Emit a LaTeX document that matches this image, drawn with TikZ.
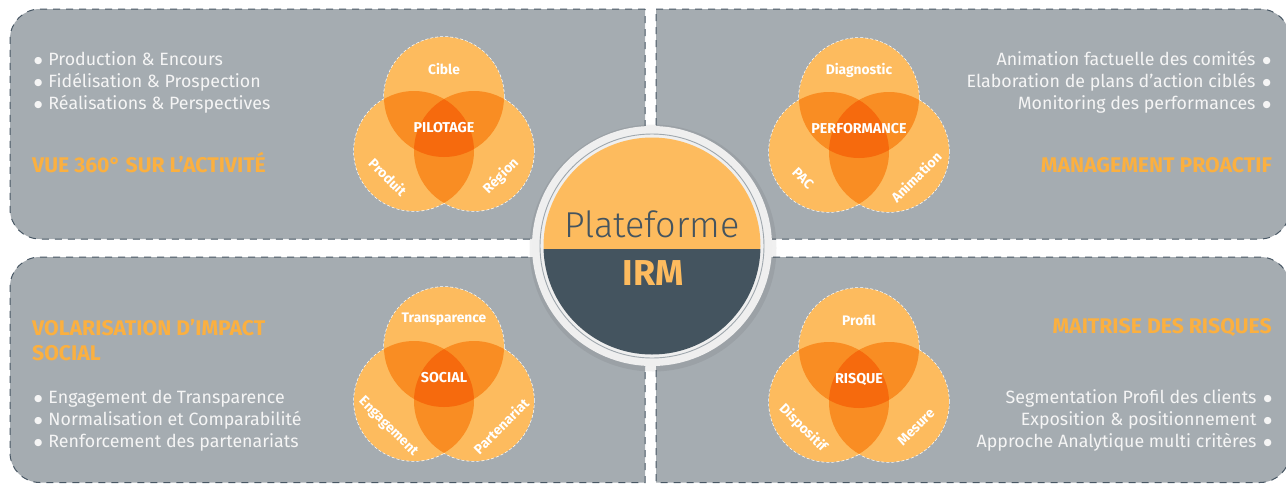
\documentclass[tikz,border=0pt]{standalone}
\usepackage{fontspec}
\setmainfont{Fira Sans}
\newfontfamily\lightfont{Fira Sans Light}
\newfontfamily\symfont{DejaVu Sans}
\definecolor{panelgray}{HTML}{A5ACB1}
\definecolor{dashcol}{HTML}{485764}
\definecolor{olight}{HTML}{FDBB5E}
\definecolor{omid}{HTML}{F98D23}
\definecolor{odark}{HTML}{F66A0D}
\definecolor{otitle}{HTML}{FBB040}
\definecolor{slate}{HTML}{44545F}
\definecolor{ringgray}{HTML}{EFEFEF}
\definecolor{ringline}{HTML}{9FA7AD}
\definecolor{btext}{HTML}{F5F5F5}
\newcommand\bul{{\symfont\fontsize{9.5}{10}\selectfont\raisebox{1.2pt}{●}}}
\newcommand\venn[7]{%
\begin{scope}[shift={(#2,#3)}]
 \coordinate (#1t) at (0,0);
 \coordinate (#1l) at (-30,54);
 \coordinate (#1r) at (30,54);
 \draw[vline] (#1t) circle[radius=60pt] (#1l) circle[radius=60pt] (#1r) circle[radius=60pt];
 \fill[olight] (#1t) circle[radius=60pt] (#1l) circle[radius=60pt] (#1r) circle[radius=60pt];
 \begin{scope}\clip (#1t) circle[radius=60pt];
  \fill[omid] (#1l) circle[radius=60pt] (#1r) circle[radius=60pt];\end{scope}
 \begin{scope}\clip (#1l) circle[radius=60pt];
  \fill[omid] (#1r) circle[radius=60pt];\end{scope}
 \begin{scope}\clip (#1t) circle[radius=60pt]; \clip (#1l) circle[radius=60pt];
  \fill[odark] (#1r) circle[radius=60pt];\end{scope}
 \node[vlab] (#1-top) at (0,-28) {#4};
 \node[vlab, rotate=-45] (#1-left) at (-56,80) {#5};
 \node[vlab, rotate=45] (#1-right) at (57,79) {#6};
 \node[clab] (#1-ctr) at (0,31) {#7};
\end{scope}}
\begin{document}
\begin{tikzpicture}[x=1pt,y=-1pt,
  panel/.style={fill=panelgray, draw=dashcol, line width=1pt, dash pattern=on 7pt off 6pt},
  vline/.style={draw=white, line width=1.3pt, dash pattern=on 3pt off 2pt},
  vlab/.style={text=white, font=\bfseries\fontsize{13.8}{15}\selectfont, inner sep=0pt},
  clab/.style={text=white, font=\bfseries\fontsize{14.3}{16}\selectfont, inner sep=0pt},
  btxt/.style={text=btext, font=\fontsize{17.8}{20}\selectfont, inner sep=0pt},
  ttl/.style={text=otitle, font=\bfseries\fontsize{21.2}{24}\selectfont, inner sep=0pt}]
\useasboundingbox (0,0) rectangle (1286,483);
\fill[white] (0,0) rectangle (1286,483);
% panels
\path[panel] (645,9) -- (40,9) .. controls (23.43,9) and (10,22.43) .. (10,39) -- (10,209) .. controls (10,225.57) and (23.43,239) .. (40,239) -- (645,239) -- cycle;
\path[panel] (656,9) -- (1260,9) .. controls (1276.57,9) and (1290,22.43) .. (1290,39) -- (1290,209) .. controls (1290,225.57) and (1276.57,239) .. (1260,239) -- (656,239) -- cycle;
\path[panel] (645,257) -- (40,257) .. controls (23.43,257) and (10,270.43) .. (10,287) -- (10,452.5) .. controls (10,469.07) and (23.43,482.5) .. (40,482.5) -- (645,482.5) -- cycle;
\path[panel] (656,257) -- (1260,257) .. controls (1276.57,257) and (1290,270.43) .. (1290,287) -- (1290,452.5) .. controls (1290,469.07) and (1276.57,482.5) .. (1260,482.5) -- (656,482.5) -- cycle;
% texts top-left
\node[btxt, anchor=base west] (tl1) at (34,65) {\bul\hspace{6pt}Production \& Encours};
\node[btxt, anchor=base west] (tl2) at (34,87) {\bul\hspace{6pt}Fidélisation \& Prospection};
\node[btxt, anchor=base west] (tl3) at (34,109) {\bul\hspace{6pt}Réalisations \& Perspectives};
\node[ttl, anchor=base west] (tlt) at (32,172) {VUE 360° SUR L’ACTIVITÉ};
% texts top-right
\node[btxt, anchor=base east] (tr1) at (1271,65) {Animation factuelle des comités\hspace{7pt}\bul};
\node[btxt, anchor=base east] (tr2) at (1271,87) {Elaboration de plans d’action ciblés\hspace{7pt}\bul};
\node[btxt, anchor=base east] (tr3) at (1271,109) {Monitoring des performances\hspace{7pt}\bul};
\node[ttl, anchor=base east] (trt) at (1272,172) {MANAGEMENT PROACTIF};
% texts bottom-left
\node[ttl, anchor=base west] (blt1) at (32,335) {VOLARISATION D’IMPACT};
\node[ttl, anchor=base west] (blt2) at (32,360) {SOCIAL};
\node[btxt, anchor=base west] (bl1) at (34,403) {\bul\hspace{6pt}Engagement de Transparence};
\node[btxt, anchor=base west] (bl2) at (34,425) {\bul\hspace{6pt}Normalisation et Comparabilité};
\node[btxt, anchor=base west] (bl3) at (34,447) {\bul\hspace{6pt}Renforcement des partenariats};
% texts bottom-right
\node[ttl, anchor=base east] (brt) at (1272,333) {MAITRISE DES RISQUES};
\node[btxt, anchor=base east] (br1) at (1272,403) {Segmentation Profil des clients\hspace{7pt}\bul};
\node[btxt, anchor=base east] (br2) at (1272,425) {Exposition \& positionnement\hspace{7pt}\bul};
\node[btxt, anchor=base east] (br3) at (1272,447) {Approche Analytique multi critères\hspace{7pt}\bul};
% venns
\venn{a}{444}{97}{Cible}{Produit}{Région}{PILOTAGE}
\venn{b}{859}{98}{Diagnostic}{PAC}{Animation}{PERFORMANCE}
\venn{c}{444}{347}{Transparence}{Engagement}{Partenariat}{SOCIAL}
\venn{d}{859}{348}{Profil}{Dispositif}{Mesure}{RISQUE}
% centre
\coordinate (ctr) at (652,246);
\fill[black, opacity=0.06] (653,248) circle[radius=123.5pt];
\fill[ringgray] (ctr) circle[radius=120pt];
\draw[ringline, line width=0.9pt] (ctr) circle[radius=112pt];
\begin{scope}
\clip (ctr) circle[radius=108.5pt];
\fill[olight] (530,120) rectangle (780,248.5);
\fill[slate] (530,248.5) rectangle (780,370);
\end{scope}
\node[text=slate, font=\lightfont\fontsize{36}{40}\selectfont, inner sep=0pt, anchor=base] (plat) at (652,237) {Plateforme};
\node[text=olight, font=\bfseries\fontsize{36}{40}\selectfont, inner sep=0pt, anchor=base] (irm) at (653,285) {IRM};
\end{tikzpicture}
\end{document}
